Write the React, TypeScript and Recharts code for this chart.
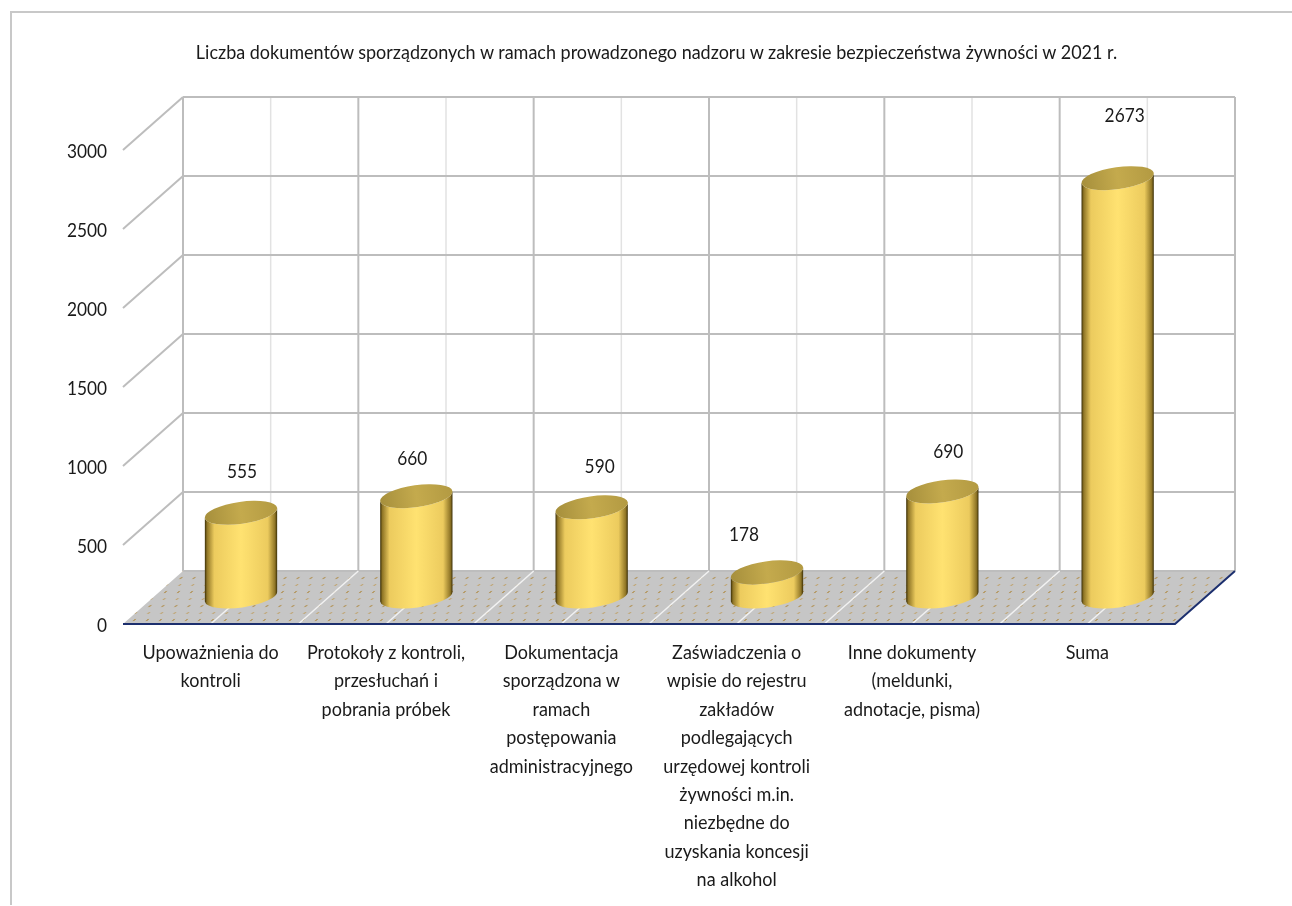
import { Bar, BarChart, LabelList, ReferenceArea, XAxis, YAxis } from "recharts";

const categories = [
  "Upoważnienia do kontroli",
  "Protokoły z kontroli, przesłuchań i pobrania próbek",
  "Dokumentacja sporządzona w ramach postępowania administracyjnego",
  "Zaświadczenia o wpisie do rejestru zakładów podlegających urzędowej kontroli żywności m.in. niezbędne do uzyskania koncesji na alkohol",
  "Inne dokumenty (meldunki, adnotacje, pisma)",
  "Suma",
];
const values = [555, 660, 590, 178, 690, 2673];
const yTicks = [0, 500, 1000, 1500, 2000, 2500, 3000];

// category labels as they wrap in the original
const categoryLines = [
  ["Upoważnienia do", "kontroli"],
  ["Protokoły z kontroli,", "przesłuchań i", "pobrania próbek"],
  ["Dokumentacja", "sporządzona w", "ramach", "postępowania", "administracyjnego"],
  ["Zaświadczenia o", "wpisie do rejestru", "zakładów", "podlegających", "urzędowej kontroli", "żywności m.in.", "niezbędne do", "uzyskania koncesji", "na alkohol"],
  ["Inne dokumenty", "(meldunki,", "adnotacje, pisma)"],
  ["Suma"],
];

const title = "Liczba dokumentów sporządzonych w ramach prowadzonego nadzoru w zakresie bezpieczeństwa żywności w 2021 r.";

const data = categories.map((name, i) => ({ name, value: values[i] }));

const FONT = "Lato, 'Open Sans', sans-serif";
const TEXT = "#1a1a1a";
const GRID = "#bdbdbd";
const NAVY = "#1c2f6e";
const DEPTH_X = 60;
const DEPTH_Y = 53;
const SQUEEZE = 0.9;
const SQUEEZE_NUM = 0.865;

// data labels do not sit at a constant distance from the cylinders in the original
const labelDx = [31, 26, 38, 7, 36, 37];
const labelDy = [65, 62, 65, 62, 64, 87];

function Walls({ x, y, width, height }: any) {
  const bottom = y + height;
  const band = width / categories.length;
  const edges = categories.map((_, i) => i).concat(categories.length);
  return (
    <g>
      <polygon
        points={`${x},${bottom} ${x + DEPTH_X},${bottom - DEPTH_Y} ${x + width + DEPTH_X},${bottom - DEPTH_Y} ${x + width},${bottom}`}
        fill="#c6c6c6"
      />
      <polygon
        points={`${x},${bottom} ${x + DEPTH_X},${bottom - DEPTH_Y} ${x + width + DEPTH_X},${bottom - DEPTH_Y} ${x + width},${bottom}`}
        fill="url(#floorDots)"
      />
      {categories.map((_, i) => (
        <line
          key={i}
          x1={x + (i + 0.5) * band + DEPTH_X}
          x2={x + (i + 0.5) * band + DEPTH_X}
          y1={y - DEPTH_Y}
          y2={bottom - DEPTH_Y}
          stroke="#e2e2e2"
          strokeWidth={1.5}
        />
      ))}
      {edges.map((i) => (
        <line
          key={i}
          x1={x + i * band + DEPTH_X}
          x2={x + i * band + DEPTH_X}
          y1={y - DEPTH_Y}
          y2={bottom - DEPTH_Y}
          stroke={GRID}
          strokeWidth={2}
        />
      ))}
      {yTicks.map((t) => {
        const ty = bottom - (height * t) / yTicks[yTicks.length - 1];
        return (
          <g key={t}>
            {t > 0 && <line x1={x} y1={ty} x2={x + DEPTH_X} y2={ty - DEPTH_Y} stroke={GRID} strokeWidth={2} />}
            <line x1={x + DEPTH_X} y1={ty - DEPTH_Y} x2={x + width + DEPTH_X} y2={ty - DEPTH_Y} stroke={GRID} strokeWidth={2} />
          </g>
        );
      })}
      {edges.slice(1, -1).map((i) => (
        <line key={i} x1={x + i * band} y1={bottom} x2={x + i * band + DEPTH_X} y2={bottom - DEPTH_Y} stroke="#f2f2f2" strokeWidth={1.5} />
      ))}
      {categories.map((_, i) => (
        <line
          key={i}
          x1={x + (i + 0.5) * band}
          y1={bottom}
          x2={x + (i + 0.5) * band + DEPTH_X}
          y2={bottom - DEPTH_Y}
          stroke="#f2f2f2"
          strokeWidth={1.5}
        />
      ))}
      <polyline
        points={`${x},${bottom} ${x + width},${bottom} ${x + width + DEPTH_X},${bottom - DEPTH_Y}`}
        fill="none"
        stroke={NAVY}
        strokeWidth={2}
      />
    </g>
  );
}

function Cylinder({ x, y, width, height }: any) {
  const cx = x + width / 2 + DEPTH_X / 2;
  const top = y - DEPTH_Y / 2 + 3;
  const base = y + height - DEPTH_Y / 2 - 1;
  const rx = width / 2 + 0.5;
  const ry = 11;
  const tilt = 8;
  const dx = rx * Math.cos((tilt * Math.PI) / 180);
  const dy = rx * Math.sin((tilt * Math.PI) / 180);
  const side = `M${cx - dx},${top + dy} L${cx - dx},${base + dy} A${rx},${ry} ${-tilt} 0 0 ${cx + dx},${base - dy} L${cx + dx},${top - dy} A${rx},${ry} ${-tilt} 0 1 ${cx - dx},${top + dy} Z`;
  return (
    <g>
      <path d={side} fill="url(#cylSide)" />
      <ellipse cx={cx} cy={top} rx={rx} ry={ry} transform={`rotate(${-tilt} ${cx} ${top})`} fill="url(#cylTop)" />
    </g>
  );
}

function YTick({ x, y, payload }: any) {
  return (
    <text transform={`translate(${x},${y + 8}) scale(${SQUEEZE_NUM},1)`} textAnchor="end" fontFamily={FONT} fontSize={20} fill={TEXT}>
      {payload.value}
    </text>
  );
}

function XTick({ x, y, index }: any) {
  return (
    <g>
      {categoryLines[index].map((line, i) => (
        <text
          key={i}
          transform={`translate(${x},${y + 27 + i * 28.4}) scale(${SQUEEZE},1)`}
          textAnchor="middle"
          fontFamily={FONT}
          fontSize={20}
          fill={TEXT}
        >
          {line}
        </text>
      ))}
    </g>
  );
}

function ValueLabel({ x, y, width, value, index }: any) {
  return (
    <text
      transform={`translate(${x + width / 2 + labelDx[index]},${y - labelDy[index] + 7}) scale(${SQUEEZE_NUM},1)`}
      textAnchor="middle"
      fontFamily={FONT}
      fontSize={20}
      fill={TEXT}
    >
      {value}
    </text>
  );
}

export default function App() {
  return (
    <div style={{ position: "absolute", left: 0, top: 0, width: 1292, height: 906, overflow: "hidden", background: "#fff" }}>
      <div style={{ position: "absolute", left: 10, top: 11, right: 0, bottom: 1, borderLeft: "2px solid #c8c8c8", borderTop: "2px solid #c8c8c8" }} />
      <div style={{ position: "absolute", left: 0, top: 0, filter: "blur(0.35px)" }}>
        <BarChart width={1292} height={906} data={data} margin={{ top: 150, right: 117, bottom: 0, left: 0 }} barSize={72}>
          <defs>
            <linearGradient id="cylSide" x1="0" x2="1" y1="0" y2="0">
              <stop offset="0" stopColor="#3a2e06" />
              <stop offset="0.03" stopColor="#8f7526" />
              <stop offset="0.13" stopColor="#eccb5e" />
              <stop offset="0.5" stopColor="#ffe271" />
              <stop offset="0.87" stopColor="#eccb5e" />
              <stop offset="0.97" stopColor="#8f7526" />
              <stop offset="1" stopColor="#3a2e06" />
            </linearGradient>
            <linearGradient id="cylTop" x1="0" x2="1" y1="0" y2="0">
              <stop offset="0" stopColor="#a68f3c" />
              <stop offset="0.5" stopColor="#c4aa4d" />
              <stop offset="1" stopColor="#b39a42" />
            </linearGradient>
            <pattern id="floorDots" width="13" height="14" patternUnits="userSpaceOnUse" patternTransform="skewX(-48)">
              <circle cx="4" cy="4" r="1" fill="#b08c48" />
              <circle cx="10.5" cy="11" r="1" fill="#bfa066" />
            </pattern>
          </defs>
          <ReferenceArea y1={0} y2={3000} ifOverflow="visible" shape={<Walls />} />
          <text
            transform={`translate(656.5,59) scale(${SQUEEZE},1)`}
            textAnchor="middle"
            fontFamily={FONT}
            fontSize={20}
            fill={TEXT}
          >
            {title}
          </text>
          <XAxis dataKey="name" height={282} interval={0} axisLine={false} tickLine={false} tick={<XTick />} />
          <YAxis width={123} domain={[0, 3000]} ticks={yTicks} axisLine={false} tickLine={false} tickSize={0} tickMargin={16} tick={<YTick />} />
          <Bar dataKey="value" isAnimationActive={false} shape={<Cylinder />}>
            <LabelList dataKey="value" content={<ValueLabel />} />
          </Bar>
        </BarChart>
      </div>
    </div>
  );
}
